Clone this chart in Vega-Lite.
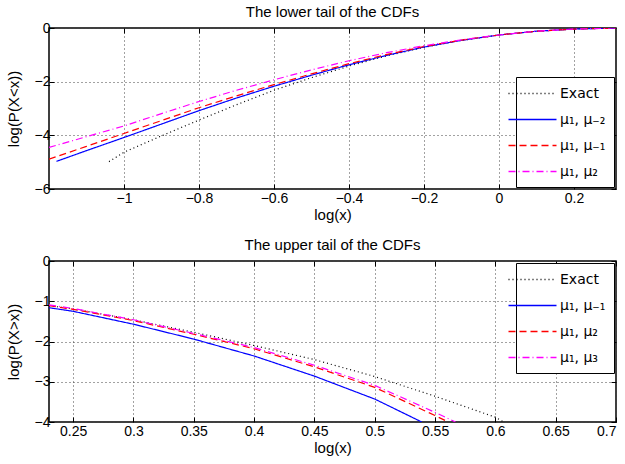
{
  "$schema": "https://vega.github.io/schema/vega-lite/v6.json",
  "padding": {"left": 5, "top": 4, "right": 2, "bottom": 2},
  "bounds": "flush",
  "spacing": 72,
  "config": {
    "font": "Liberation Sans",
    "view": {"stroke": "black", "strokeWidth": 1.5},
    "axis": {
      "domain": false,
      "grid": true,
      "gridColor": "#444444",
      "gridDash": [1, 3],
      "gridWidth": 1,
      "tickColor": "black",
      "tickSize": -5,
      "tickWidth": 1,
      "labelFontSize": 14,
      "labelColor": "black",
      "labelPadding": 7,
      "titleFontSize": 15,
      "titleFontWeight": "normal",
      "titleColor": "black"
    },
    "axisY": {"labelPadding": 4},
    "legend": {
      "title": null,
      "symbolType": "M-3.2,0H3.2",
      "symbolSize": 225,
      "symbolStrokeWidth": 1.5,
      "labelFont": "DejaVu Sans",
      "labelFontSize": 14,
      "labelColor": "black",
      "labelOffset": 19,
      "labelLimit": 200,
      "padding": 8,
      "rowPadding": 10,
      "strokeColor": "black",
      "fillColor": "white",
      "offset": 2
    },
    "title": {"fontSize": 15, "fontWeight": "normal", "color": "black", "offset": 1}
  },
  "datasets": {
    "lower": [
      {"s": "Exact", "x": -1.04, "y": -4.98},
      {"s": "Exact", "x": -1.0, "y": -4.63},
      {"s": "Exact", "x": -0.9, "y": -4.02},
      {"s": "Exact", "x": -0.8, "y": -3.43},
      {"s": "Exact", "x": -0.7, "y": -2.86},
      {"s": "Exact", "x": -0.6, "y": -2.32},
      {"s": "Exact", "x": -0.5, "y": -1.85},
      {"s": "Exact", "x": -0.4, "y": -1.42},
      {"s": "Exact", "x": -0.3, "y": -1.04},
      {"s": "Exact", "x": -0.2, "y": -0.72},
      {"s": "Exact", "x": -0.1, "y": -0.46},
      {"s": "Exact", "x": 0.0, "y": -0.26},
      {"s": "Exact", "x": 0.1, "y": -0.12},
      {"s": "Exact", "x": 0.2, "y": -0.04},
      {"s": "Exact", "x": 0.312, "y": 0.0},
      {"s": "μ₁, μ₋₂", "x": -1.18, "y": -4.97},
      {"s": "μ₁, μ₋₂", "x": -1.1, "y": -4.57},
      {"s": "μ₁, μ₋₂", "x": -1.0, "y": -4.08},
      {"s": "μ₁, μ₋₂", "x": -0.9, "y": -3.58},
      {"s": "μ₁, μ₋₂", "x": -0.8, "y": -3.08},
      {"s": "μ₁, μ₋₂", "x": -0.7, "y": -2.61},
      {"s": "μ₁, μ₋₂", "x": -0.6, "y": -2.17},
      {"s": "μ₁, μ₋₂", "x": -0.5, "y": -1.76},
      {"s": "μ₁, μ₋₂", "x": -0.4, "y": -1.37},
      {"s": "μ₁, μ₋₂", "x": -0.3, "y": -1.02},
      {"s": "μ₁, μ₋₂", "x": -0.2, "y": -0.71},
      {"s": "μ₁, μ₋₂", "x": -0.1, "y": -0.46},
      {"s": "μ₁, μ₋₂", "x": 0.0, "y": -0.26},
      {"s": "μ₁, μ₋₂", "x": 0.1, "y": -0.12},
      {"s": "μ₁, μ₋₂", "x": 0.2, "y": -0.04},
      {"s": "μ₁, μ₋₂", "x": 0.312, "y": 0.0},
      {"s": "μ₁, μ₋₁", "x": -1.2, "y": -4.89},
      {"s": "μ₁, μ₋₁", "x": -1.1, "y": -4.41},
      {"s": "μ₁, μ₋₁", "x": -1.0, "y": -3.93},
      {"s": "μ₁, μ₋₁", "x": -0.9, "y": -3.45},
      {"s": "μ₁, μ₋₁", "x": -0.8, "y": -2.97},
      {"s": "μ₁, μ₋₁", "x": -0.7, "y": -2.53},
      {"s": "μ₁, μ₋₁", "x": -0.6, "y": -2.11},
      {"s": "μ₁, μ₋₁", "x": -0.5, "y": -1.71},
      {"s": "μ₁, μ₋₁", "x": -0.4, "y": -1.33},
      {"s": "μ₁, μ₋₁", "x": -0.3, "y": -0.99},
      {"s": "μ₁, μ₋₁", "x": -0.2, "y": -0.69},
      {"s": "μ₁, μ₋₁", "x": -0.1, "y": -0.45},
      {"s": "μ₁, μ₋₁", "x": 0.0, "y": -0.26},
      {"s": "μ₁, μ₋₁", "x": 0.1, "y": -0.12},
      {"s": "μ₁, μ₋₁", "x": 0.2, "y": -0.04},
      {"s": "μ₁, μ₋₁", "x": 0.312, "y": 0.0},
      {"s": "μ₁, μ₂", "x": -1.2, "y": -4.45},
      {"s": "μ₁, μ₂", "x": -1.1, "y": -4.05},
      {"s": "μ₁, μ₂", "x": -1.0, "y": -3.65},
      {"s": "μ₁, μ₂", "x": -0.9, "y": -3.19},
      {"s": "μ₁, μ₂", "x": -0.8, "y": -2.74},
      {"s": "μ₁, μ₂", "x": -0.7, "y": -2.32},
      {"s": "μ₁, μ₂", "x": -0.6, "y": -1.93},
      {"s": "μ₁, μ₂", "x": -0.5, "y": -1.56},
      {"s": "μ₁, μ₂", "x": -0.4, "y": -1.22},
      {"s": "μ₁, μ₂", "x": -0.3, "y": -0.92},
      {"s": "μ₁, μ₂", "x": -0.2, "y": -0.66},
      {"s": "μ₁, μ₂", "x": -0.1, "y": -0.44},
      {"s": "μ₁, μ₂", "x": 0.0, "y": -0.26},
      {"s": "μ₁, μ₂", "x": 0.1, "y": -0.12},
      {"s": "μ₁, μ₂", "x": 0.2, "y": -0.04},
      {"s": "μ₁, μ₂", "x": 0.312, "y": 0.0}
    ],
    "upper": [
      {"s": "Exact", "x": 0.23, "y": -1.11},
      {"s": "Exact", "x": 0.25, "y": -1.19},
      {"s": "Exact", "x": 0.3, "y": -1.46},
      {"s": "Exact", "x": 0.35, "y": -1.77},
      {"s": "Exact", "x": 0.4, "y": -2.1},
      {"s": "Exact", "x": 0.45, "y": -2.45},
      {"s": "Exact", "x": 0.5, "y": -2.87},
      {"s": "Exact", "x": 0.55, "y": -3.36},
      {"s": "Exact", "x": 0.6, "y": -3.88},
      {"s": "Exact", "x": 0.607, "y": -4.0},
      {"s": "μ₁, μ₋₁", "x": 0.23, "y": -1.16},
      {"s": "μ₁, μ₋₁", "x": 0.25, "y": -1.25},
      {"s": "μ₁, μ₋₁", "x": 0.3, "y": -1.57},
      {"s": "μ₁, μ₋₁", "x": 0.35, "y": -1.94},
      {"s": "μ₁, μ₋₁", "x": 0.4, "y": -2.36},
      {"s": "μ₁, μ₋₁", "x": 0.45, "y": -2.86},
      {"s": "μ₁, μ₋₁", "x": 0.5, "y": -3.43},
      {"s": "μ₁, μ₋₁", "x": 0.539, "y": -4.0},
      {"s": "μ₁, μ₂", "x": 0.23, "y": -1.11},
      {"s": "μ₁, μ₂", "x": 0.25, "y": -1.2},
      {"s": "μ₁, μ₂", "x": 0.3, "y": -1.48},
      {"s": "μ₁, μ₂", "x": 0.35, "y": -1.82},
      {"s": "μ₁, μ₂", "x": 0.4, "y": -2.18},
      {"s": "μ₁, μ₂", "x": 0.45, "y": -2.63},
      {"s": "μ₁, μ₂", "x": 0.5, "y": -3.14},
      {"s": "μ₁, μ₂", "x": 0.55, "y": -3.84},
      {"s": "μ₁, μ₂", "x": 0.561, "y": -4.0},
      {"s": "μ₁, μ₃", "x": 0.23, "y": -1.09},
      {"s": "μ₁, μ₃", "x": 0.25, "y": -1.18},
      {"s": "μ₁, μ₃", "x": 0.3, "y": -1.46},
      {"s": "μ₁, μ₃", "x": 0.35, "y": -1.8},
      {"s": "μ₁, μ₃", "x": 0.4, "y": -2.15},
      {"s": "μ₁, μ₃", "x": 0.45, "y": -2.59},
      {"s": "μ₁, μ₃", "x": 0.5, "y": -3.09},
      {"s": "μ₁, μ₃", "x": 0.55, "y": -3.76},
      {"s": "μ₁, μ₃", "x": 0.567, "y": -4.0}
    ]
  },
  "vconcat": [
    {
      "width": 567,
      "height": 161,
      "title": "The lower tail of the CDFs",
      "data": {"name": "lower"},
      "layer": [
        {
          "mark": {"type": "line", "strokeWidth": 1.2, "clip": true},
          "encoding": {
            "x": {"field": "x", "type": "quantitative", "scale": {"domain": [-1.2, 0.312], "nice": false, "zero": false},
                  "axis": {"title": "log(x)", "values": [-1, -0.8, -0.6, -0.4, -0.2, 0, 0.2], "format": "~g", "titlePadding": 2}},
            "y": {"field": "y", "type": "quantitative", "scale": {"domain": [-6, 0], "nice": false},
                  "axis": {"title": "log(P(X<x))", "values": [-6, -4, -2, 0], "format": "~g", "titlePadding": 13}},
            "color": {"field": "s", "type": "nominal",
                      "scale": {"domain": ["Exact", "μ₁, μ₋₂", "μ₁, μ₋₁", "μ₁, μ₂"], "range": ["#000000", "#0000ff", "#ff0000", "#ff00ff"]},
                      "legend": {"orient": "bottom-right", "encode": {"symbols": {"update": {
                        "stroke": {"signal": "datum.value === 'μ₁, μ₋₂' ? '#0000ff' : datum.value === 'μ₁, μ₋₁' ? '#ff0000' : datum.value === 'μ₁, μ₂' ? '#ff00ff' : '#000000'"},
                        "strokeDash": {"signal": "datum.value === 'μ₁, μ₋₂' ? [1, 0] : datum.value === 'μ₁, μ₋₁' ? [7, 4] : datum.value === 'μ₁, μ₂' ? [7, 3, 1, 3] : [1, 3]"}
                      }}}}},
            "strokeDash": {"field": "s", "type": "nominal",
                      "scale": {"domain": ["Exact", "μ₁, μ₋₂", "μ₁, μ₋₁", "μ₁, μ₂"], "range": [[1, 3], [1, 0], [7, 4], [7, 3, 1, 3]]},
                      "legend": null}
          }
        },
        {
          "mark": {"type": "line", "opacity": 0},
          "encoding": {
            "x": {"field": "x", "type": "quantitative", "axis": {"orient": "top", "labels": false, "grid": false, "title": null, "values": [-1, -0.8, -0.6, -0.4, -0.2, 0, 0.2]}},
            "y": {"field": "y", "type": "quantitative", "axis": {"orient": "right", "labels": false, "grid": false, "title": null, "values": [-6, -4, -2, 0]}},
            "detail": {"field": "s"}
          }
        }
      ],
      "resolve": {"axis": {"x": "independent", "y": "independent"}}
    },
    {
      "width": 567,
      "height": 161,
      "title": "The upper tail of the CDFs",
      "data": {"name": "upper"},
      "layer": [
        {
          "mark": {"type": "line", "strokeWidth": 1.2, "clip": true},
          "encoding": {
            "x": {"field": "x", "type": "quantitative", "scale": {"domain": [0.23, 0.7], "nice": false, "zero": false},
                  "axis": {"title": "log(x)", "values": [0.25, 0.3, 0.35, 0.4, 0.45, 0.5, 0.55, 0.6, 0.65, 0.7], "format": "~g", "titlePadding": 2}},
            "y": {"field": "y", "type": "quantitative", "scale": {"domain": [-4, 0], "nice": false},
                  "axis": {"title": "log(P(X>x))", "values": [-4, -3, -2, -1, 0], "format": "~g", "titlePadding": 13}},
            "color": {"field": "s", "type": "nominal",
                      "scale": {"domain": ["Exact", "μ₁, μ₋₁", "μ₁, μ₂", "μ₁, μ₃"], "range": ["#000000", "#0000ff", "#ff0000", "#ff00ff"]},
                      "legend": {"orient": "top-right", "encode": {"symbols": {"update": {
                        "stroke": {"signal": "datum.value === 'μ₁, μ₋₁' ? '#0000ff' : datum.value === 'μ₁, μ₂' ? '#ff0000' : datum.value === 'μ₁, μ₃' ? '#ff00ff' : '#000000'"},
                        "strokeDash": {"signal": "datum.value === 'μ₁, μ₋₁' ? [1, 0] : datum.value === 'μ₁, μ₂' ? [7, 4] : datum.value === 'μ₁, μ₃' ? [7, 3, 1, 3] : [1, 3]"}
                      }}}}},
            "strokeDash": {"field": "s", "type": "nominal",
                      "scale": {"domain": ["Exact", "μ₁, μ₋₁", "μ₁, μ₂", "μ₁, μ₃"], "range": [[1, 3], [1, 0], [7, 4], [7, 3, 1, 3]]},
                      "legend": null}
          }
        },
        {
          "mark": {"type": "line", "opacity": 0},
          "encoding": {
            "x": {"field": "x", "type": "quantitative", "axis": {"orient": "top", "labels": false, "grid": false, "title": null, "values": [0.25, 0.3, 0.35, 0.4, 0.45, 0.5, 0.55, 0.6, 0.65, 0.7]}},
            "y": {"field": "y", "type": "quantitative", "axis": {"orient": "right", "labels": false, "grid": false, "title": null, "values": [-4, -3, -2, -1, 0]}},
            "detail": {"field": "s"}
          }
        }
      ],
      "resolve": {"axis": {"x": "independent", "y": "independent"}}
    }
  ],
  "resolve": {"scale": {"color": "independent", "strokeDash": "independent"}}
}
